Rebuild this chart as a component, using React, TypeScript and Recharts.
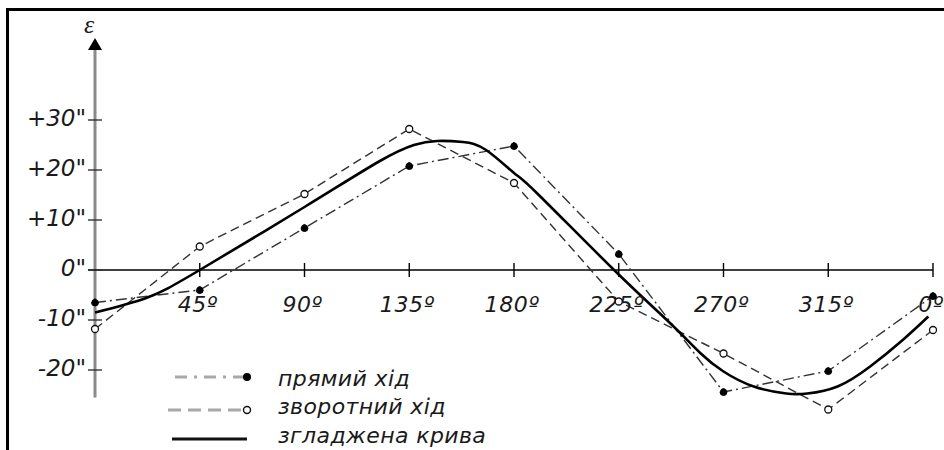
import { ComposedChart, Line, XAxis, YAxis, ReferenceLine, ReferenceDot } from "recharts"

// measurement angles (degrees) and errors (arc seconds)
const ANGLES = [0, 45, 90, 135, 180, 225, 270, 315, 360]
const DIRECT = [-6.5, -4, 8.4, 20.8, 24.8, 3.2, -24.4, -20.2, -5.2]
const REVERSE = [-11.8, 4.7, 15.2, 28.2, 17.4, -6.3, -16.7, -27.9, -12]

// smoothed curve
const SMOOTH_ANGLES = [0, 22, 45, 90, 122, 137, 147, 158, 168, 180, 190, 223, 247, 260, 270, 283, 297, 306, 319, 333, 347, 358]
const SMOOTH = [-8.5, -5.6, 0, 12.6, 21.7, 25, 25.8, 25.6, 24, 19.4, 15.3, 0, -10.6, -16.6, -20.3, -23.3, -24.7, -24.7, -23.3, -19.3, -14, -9.3]

const X_TICKS = [45, 90, 135, 180, 225, 270, 315, 360]
const X_LABELS = ["45º", "90º", "135º", "180º", "225º", "270º", "315º", "0º"]
const Y_TICKS = [-20, -10, 0, 10, 20, 30]
const Y_LABELS = ['-20"', '-10"', '0"', '+10"', '+20"', '+30"']

const LEGEND = ["прямий хід", "зворотний хід", "згладжена крива"]

const directData = ANGLES.map((a, i) => ({ a, v: DIRECT[i] }))
const reverseData = ANGLES.map((a, i) => ({ a, v: REVERSE[i] }))
const smoothData = SMOOTH_ANGLES.map((a, i) => ({ a, v: SMOOTH[i] }))

const FONT = "'DejaVu Sans', sans-serif"
const INK = "#1a1a1a"

export default function App() {
  return (
    <div style={{ position: "absolute", left: 0, top: 0, width: 944, height: 450, background: "#fff", overflow: "hidden" }}>
      <div
        style={{
          position: "absolute",
          left: 6,
          top: 8,
          width: 960,
          height: 460,
          borderTop: "3px solid #000",
          borderLeft: "3px solid #000",
        }}
      />
      <ComposedChart width={944} height={450} margin={{ top: 30, right: 11, bottom: 30, left: 95 }} style={{ position: "absolute", left: 0, top: 0 }}>
        <XAxis hide type="number" dataKey="a" domain={[0, 360]} />
        <YAxis hide type="number" domain={[-30, 48]} />

        <ReferenceLine segment={[{ x: 0, y: -25.5 }, { x: 0, y: 44 }]} stroke="#8a8a8a" strokeWidth={3} ifOverflow="visible" />
        <ReferenceDot
          x={0}
          y={44}
          ifOverflow="visible"
          shape={(p: any) => (
            <g>
              <polygon points={`${p.cx - 7},${p.cy} ${p.cx + 7},${p.cy} ${p.cx},${p.cy - 12}`} fill="#000" />
              <text x={p.cx - 6} y={p.cy - 17} textAnchor="middle" fontFamily="'Liberation Serif', serif" fontStyle="italic" fontSize={26} fill={INK}>
                ε
              </text>
            </g>
          )}
        />
        <ReferenceLine segment={[{ x: -3, y: 0 }, { x: 360, y: 0 }]} stroke="#000" strokeWidth={1.6} ifOverflow="visible" />

        {X_TICKS.map((t, i) => (
          <ReferenceDot
            key={"x" + t}
            x={t}
            y={0}
            ifOverflow="visible"
            shape={(p: any) => (
              <g>
                <line x1={p.cx} x2={p.cx} y1={p.cy - 7} y2={p.cy + 7} stroke="#000" strokeWidth={1.4} />
                <text x={p.cx - 2} y={p.cy + 42} textAnchor="middle" fontFamily={FONT} fontStyle="italic" fontSize={22} letterSpacing={0.6} fill={INK}>
                  {X_LABELS[i]}
                </text>
              </g>
            )}
          />
        ))}
        {Y_TICKS.map((t, i) => (
          <ReferenceDot
            key={"y" + t}
            x={0}
            y={t}
            ifOverflow="visible"
            shape={(p: any) => (
              <g>
                <line x1={p.cx - 7} x2={p.cx + 7} y1={p.cy} y2={p.cy} stroke="#333" strokeWidth={1.4} />
                <text x={p.cx - 9} y={p.cy + 6} textAnchor="end" fontFamily={FONT} fontStyle="italic" fontSize={23} fill={INK}>
                  {Y_LABELS[i]}
                </text>
              </g>
            )}
          />
        ))}

        <Line
          data={directData}
          dataKey="v"
          type="linear"
          stroke="#333"
          strokeWidth={1.4}
          strokeDasharray="11 4 2 4"
          dot={{ r: 3.5, fill: "#000", stroke: "#000", strokeWidth: 1 }}
          isAnimationActive={false}
        />
        <Line
          data={reverseData}
          dataKey="v"
          type="linear"
          stroke="#333"
          strokeWidth={1.4}
          strokeDasharray="9 5"
          dot={{ r: 3.5, fill: "#fff", stroke: "#111", strokeWidth: 1.3, strokeDasharray: "0" }}
          isAnimationActive={false}
        />
        <Line data={smoothData} dataKey="v" type="natural" stroke="#000" strokeWidth={2.6} dot={false} isAnimationActive={false} />
      </ComposedChart>

      <svg width={944} height={450} style={{ position: "absolute", left: 0, top: 0, pointerEvents: "none" }}>
        <line x1={175} x2={245} y1={377} y2={377} stroke="#a8a8a8" strokeWidth={3} strokeDasharray="12 7 3 7" />
        <circle cx={247} cy={377} r={4} fill="#000" />
        <line x1={168} x2={244} y1={410} y2={410} stroke="#a8a8a8" strokeWidth={3} strokeDasharray="13 7" />
        <circle cx={247} cy={410} r={3.5} fill="#fff" stroke="#111" strokeWidth={1.4} />
        <line x1={172} x2={247} y1={439} y2={439} stroke="#111" strokeWidth={3} />
        {LEGEND.map((t, i) => (
          <text key={t} x={278} y={[386, 414, 443][i]} fontFamily={FONT} fontStyle="italic" fontSize={22} letterSpacing={0.4} fill={INK}>
            {t}
          </text>
        ))}
      </svg>
    </div>
  )
}
